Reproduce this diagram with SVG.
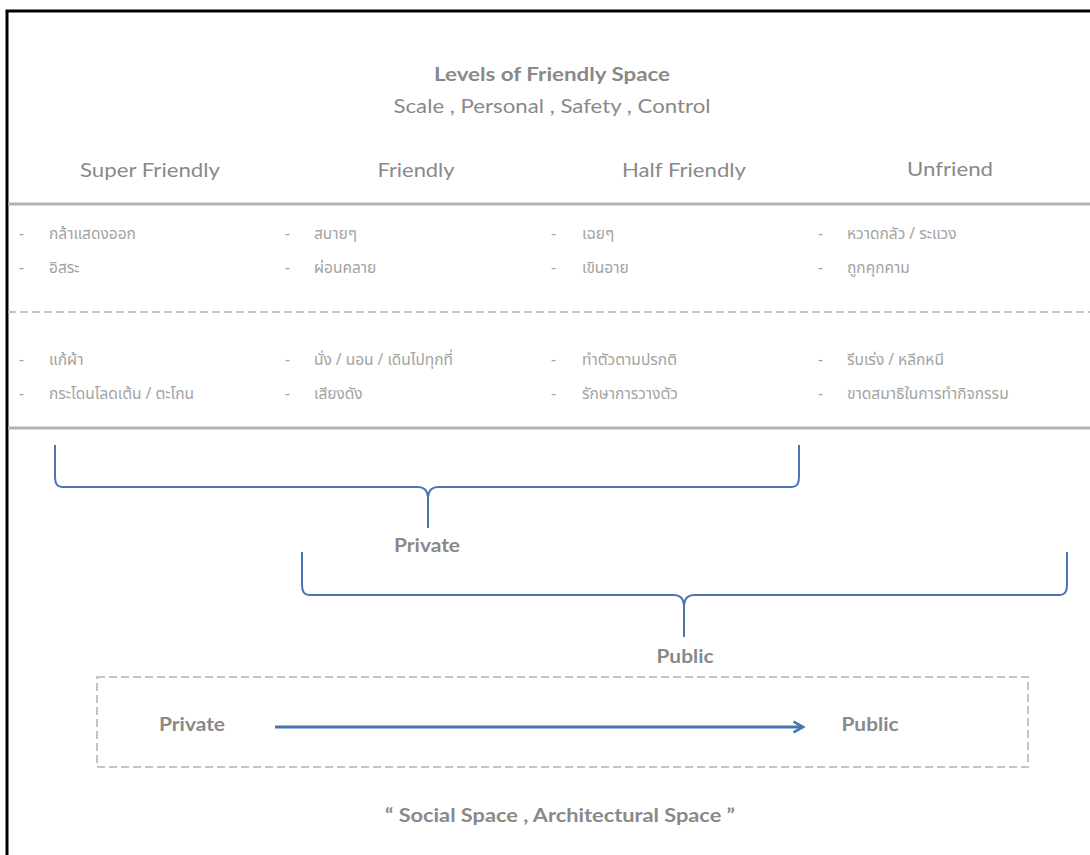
<svg xmlns="http://www.w3.org/2000/svg" width="1090" height="855" viewBox="0 0 1090 855">
<defs>
<style>
.t{font-family:"Lato","Open Sans","Liberation Sans",sans-serif;fill:#898989}
.b{font-weight:bold}
.th{font-family:"Noto Sans Thai","Noto Sans","DejaVu Sans",sans-serif;fill:#a3a3a3;font-size:15.5px}
.brace{fill:none;stroke:#4a74b4;stroke-width:2}
.sep{stroke:#b3b3b3;stroke-width:3}
.dash{stroke:#c4c4c4;stroke-width:2;stroke-dasharray:8 4}
</style>
<marker id="ah" viewBox="0 0 10 10" refX="8" refY="5" markerWidth="4.5" markerHeight="4.5" orient="auto" markerUnits="strokeWidth">
<path d="M1,1 L8,5 L1,9" fill="none" stroke="#4a74b4" stroke-width="2"/>
</marker>
</defs>
<rect width="1090" height="855" fill="#ffffff"/>
<path d="M7,855 V11 H1090" fill="none" stroke="#000" stroke-width="3"/>

<g id="title">
<text class="t b" x="552" y="81" font-size="18" text-anchor="middle" fill="#7a7a7a" textLength="236" lengthAdjust="spacingAndGlyphs">Levels of Friendly Space</text>
<text class="t" x="552" y="113" font-size="19" text-anchor="middle" textLength="317" lengthAdjust="spacingAndGlyphs">Scale , Personal , Safety , Control</text>
</g>

<g id="headers">
<text class="t" x="150" y="177" font-size="20" text-anchor="middle" textLength="140" lengthAdjust="spacingAndGlyphs">Super Friendly</text>
<text class="t" x="416" y="177" font-size="20" text-anchor="middle" textLength="77" lengthAdjust="spacingAndGlyphs">Friendly</text>
<text class="t" x="684" y="177" font-size="20" text-anchor="middle" textLength="124" lengthAdjust="spacingAndGlyphs">Half Friendly</text>
<text class="t" x="950" y="176" font-size="20" text-anchor="middle" textLength="86" lengthAdjust="spacingAndGlyphs">Unfriend</text>
</g>

<g id="separators">
<line class="sep" x1="8" y1="204" x2="1090" y2="204"/>
<line class="dash" x1="8" y1="312" x2="1090" y2="312"/>
<line class="sep" x1="8" y1="428" x2="1090" y2="428"/>
</g>

<g id="col-super-friendly">
<text class="th" x="19" y="239">-</text><text class="th" x="49" y="239">กล้าแสดงออก</text>
<text class="th" x="19" y="273">-</text><text class="th" x="49" y="273">อิสระ</text>
<text class="th" x="19" y="365">-</text><text class="th" x="49" y="365">แก้ผ้า</text>
<text class="th" x="19" y="399">-</text><text class="th" x="49" y="399">กระโดนโลดเต้น / ตะโกน</text>
</g>
<g id="col-friendly">
<text class="th" x="285" y="239">-</text><text class="th" x="314" y="239">สบายๆ</text>
<text class="th" x="285" y="273">-</text><text class="th" x="314" y="273">ผ่อนคลาย</text>
<text class="th" x="285" y="365">-</text><text class="th" x="314" y="365">นั่ง / นอน / เดินไปทุกที่</text>
<text class="th" x="285" y="399">-</text><text class="th" x="314" y="399">เสียงดัง</text>
</g>
<g id="col-half-friendly">
<text class="th" x="551" y="239">-</text><text class="th" x="582" y="239">เฉยๆ</text>
<text class="th" x="551" y="273">-</text><text class="th" x="582" y="273">เขินอาย</text>
<text class="th" x="551" y="365">-</text><text class="th" x="582" y="365">ทำตัวตามปรกติ</text>
<text class="th" x="551" y="399">-</text><text class="th" x="582" y="399">รักษาการวางตัว</text>
</g>
<g id="col-unfriend">
<text class="th" x="818" y="239">-</text><text class="th" x="847" y="239">หวาดกลัว / ระแวง</text>
<text class="th" x="818" y="273">-</text><text class="th" x="847" y="273">ถูกคุกคาม</text>
<text class="th" x="818" y="365">-</text><text class="th" x="847" y="365">รีบเร่ง / หลีกหนี</text>
<text class="th" x="818" y="399">-</text><text class="th" x="847" y="399">ขาดสมาธิในการทำกิจกรรม</text>
</g>

<g id="connectors">
<path class="brace" d="M55,445 V477 Q55,487 62,487 H418 Q427,487 428,497 V528 M428,497 Q429,487 438,487 H792 Q799,487 799,477 V445"/>
<path class="brace" d="M302,552 V585 Q302,595 309,595 H674 Q683,595 684,605 V637 M684,605 Q685,595 694,595 H1060 Q1067,595 1067,585 V552"/>
<line x1="275" y1="727" x2="803" y2="727" stroke="#4a74b4" stroke-width="3" marker-end="url(#ah)"/>
</g>

<g id="private-label">
<text class="t b" x="427" y="552" font-size="18" text-anchor="middle" textLength="66" lengthAdjust="spacingAndGlyphs">Private</text>
</g>
<g id="public-label">
<text class="t b" x="685" y="663" font-size="18" text-anchor="middle" textLength="57" lengthAdjust="spacingAndGlyphs">Public</text>
</g>

<g id="scale-box">
<rect x="97" y="677" width="931" height="90" fill="none" class="dash"/>
<text class="t b" x="192" y="731" font-size="18" text-anchor="middle" textLength="66" lengthAdjust="spacingAndGlyphs">Private</text>
<text class="t b" x="870" y="731" font-size="18" text-anchor="middle" textLength="57" lengthAdjust="spacingAndGlyphs">Public</text>
</g>

<g id="caption">
<text class="t b" x="560" y="822" font-size="18" text-anchor="middle" textLength="350" lengthAdjust="spacingAndGlyphs">“ Social Space , Architectural Space ”</text>
</g>
</svg>
